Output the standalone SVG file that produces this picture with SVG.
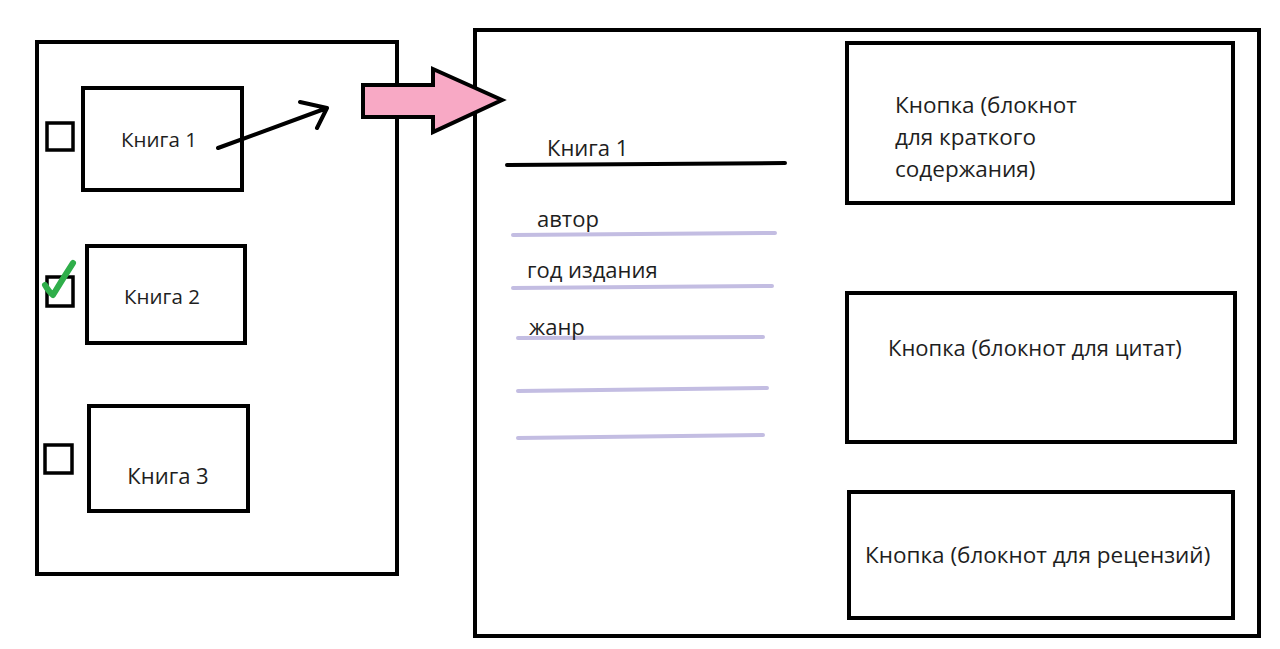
<svg xmlns="http://www.w3.org/2000/svg" width="1280" height="649" viewBox="0 0 1280 649">
<style>
.box{fill:none;stroke:#000;stroke-width:4;stroke-linejoin:miter}
.cb{fill:none;stroke:#000;stroke-width:3.5}
.t{font-family:"Open Sans","Noto Sans",sans-serif;font-size:22px;fill:#1e1e1e}
.s{font-size:20.5px}
.pl{stroke:#c3bde2;stroke-width:4;stroke-linecap:round;fill:none}
</style>
<rect width="1280" height="649" fill="#fff"/>
<g id="left-panel">
<rect class="box" x="37" y="42" width="360" height="532"/>
</g>
<g id="book1">
<rect class="cb" x="47" y="123" width="26" height="27"/>
<rect class="box" x="83" y="88" width="159" height="102"/>
<text class="t s" x="159" y="147" text-anchor="middle">Книга 1</text>
</g>
<g id="book2">
<rect class="cb" x="47" y="277" width="26" height="29"/>
<rect class="box" x="87" y="246" width="158" height="97"/>
<text class="t s" x="162" y="304" text-anchor="middle">Книга 2</text>
<path d="M45,285 Q49,292 53,295 Q62,280 73,263" fill="none" stroke="#2fae4a" stroke-width="6" stroke-linecap="round" stroke-linejoin="round"/>
</g>
<g id="book3">
<rect class="cb" x="45" y="445" width="27" height="28"/>
<rect class="box" x="89" y="406" width="159" height="105"/>
<text class="t" x="168" y="484" text-anchor="middle">Книга 3</text>
</g>
<g id="connectors">
<path d="M218,148 L327,108 M300,102 L327,108 L317,128" fill="none" stroke="#000" stroke-width="4" stroke-linecap="round" stroke-linejoin="round"/>
</g>
<g id="right-panel">
<rect class="box" x="475" y="30" width="784" height="606"/>
</g>
<g id="pink-arrow">
<path d="M363,85 L433,85 L433,69 L502,100 L433,132 L433,117 L363,117 Z" fill="#f8a9c5" stroke="#000" stroke-width="4" stroke-linejoin="miter"/>
</g>
<g id="book-details">
<text class="t" x="547" y="156">Книга 1</text>
<line x1="507" y1="165" x2="785" y2="163" stroke="#000" stroke-width="4" stroke-linecap="round"/>
<text class="t" x="537" y="227">автор</text>
<line class="pl" x1="513" y1="235" x2="775" y2="233"/>
<text class="t" x="527" y="278">год издания</text>
<line class="pl" x1="513" y1="288" x2="772" y2="286"/>
<line class="pl" x1="518" y1="338" x2="763" y2="337"/>
<text class="t" x="529" y="335">жанр</text>
<line class="pl" x1="518" y1="391" x2="767" y2="388"/>
<line class="pl" x1="518" y1="438" x2="763" y2="435"/>
</g>
<g id="button-summary">
<rect class="box" x="847" y="43" width="386" height="160"/>
<text class="t" x="895" y="113" style="font-size:22.5px">Кнопка (блокнот</text>
<text class="t" x="895" y="145" style="font-size:22.5px">для краткого</text>
<text class="t" x="895" y="177" style="font-size:22.5px">содержания)</text>
</g>
<g id="button-quotes">
<rect class="box" x="847" y="293" width="388" height="149"/>
<text class="t" x="888" y="356">Кнопка (блокнот для цитат)</text>
</g>
<g id="button-reviews">
<rect class="box" x="849" y="492" width="384" height="126"/>
<text class="t" x="865" y="563" style="font-size:22.5px">Кнопка (блокнот для рецензий)</text>
</g>
</svg>
